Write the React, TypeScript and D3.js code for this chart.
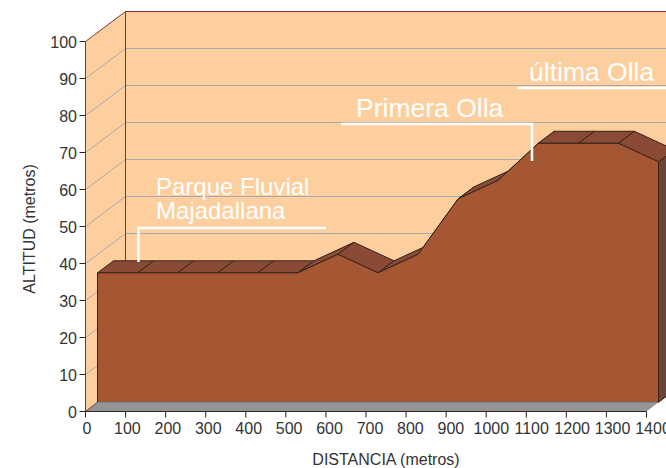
import React from "react";
import * as d3 from "d3";

const distances = [0, 100, 200, 300, 400, 500, 600, 700, 800, 900, 1000, 1100, 1200, 1300, 1400];
const altitudes = [35, 35, 35, 35, 35, 35, 40, 35, 40, 55, 60, 70, 70, 70, 65];
const yTicks = [0, 10, 20, 30, 40, 50, 60, 70, 80, 90, 100];
const annotations = [
  { lines: ["Parque Fluvial", "Majadallana"], x: 156, y: 194.5, size: 24, path: [[138.5, 262], [138.5, 228], [326, 228]] },
  { lines: ["Primera Olla"], x: 356, y: 116.5, size: 26.5, path: [[341, 124], [532, 124], [532, 161]] },
  { lines: ["última Olla"], x: 529, y: 81, size: 26.5, path: [[517, 88], [667, 88]] },
];

const W = 666, H = 468;
const FONT = '"Liberation Sans", Arial, sans-serif';
const WALL = "#fdcf9e", AREA = "#a55632", TOP = "#8b4a35", SIDE = "#6f4237";
const FLOOR = "#939598", GRID = "#a9a9a9", FRAME = "#8b2f32", EDGE = "#33231c", TEXT = "#333333";

const x = d3.scaleLinear().domain([0, 1400]).range([85.5, 646.5]);
const y = d3.scaleLinear().domain([0, 100]).range([411.5, 41.5]);
const labelX = d3.scaleLinear().domain([0, 1400]).range([87, 653]);
const wall = { dx: 40, dy: -30 };
const front = { dx: 12, dy: -9.2 };
const back = { dx: 28, dy: -21.2 };

const pts = (p: number[][]) => p.map((q) => q.join(",")).join(" ");
const line = d3.line();

export default function App() {
  const fx = (d: number) => x(d) + front.dx;
  const fy = (v: number) => y(v) + front.dy;
  const bx = (d: number) => x(d) + back.dx;
  const by = (v: number) => y(v) + back.dy;
  const last = distances.length - 1;
  const frontPath = d3
    .area<number>()
    .x((_, i) => fx(distances[i]))
    .y0(fy(0))
    .y1((v) => fy(v))(altitudes);

  return (
    <svg width={W} height={H} viewBox={`0 0 ${W} ${H}`} style={{ position: "absolute", left: 0, top: 0, display: "block" }}>
      <rect width={W} height={H} fill="#fff" />
      {/* walls */}
      <polygon points={pts([[x(0), y(0)], [x(0) + wall.dx, y(0) + wall.dy], [x(0) + wall.dx, y(100) + wall.dy], [x(0), y(100)]])} fill={WALL} />
      <polygon points={pts([[x(0) + wall.dx, y(0) + wall.dy], [x(1400) + wall.dx, y(0) + wall.dy], [x(1400) + wall.dx, y(100) + wall.dy], [x(0) + wall.dx, y(100) + wall.dy]])} fill={WALL} />
      {yTicks.slice(1, -1).map((t) => (
        <polyline key={t} fill="none" stroke={GRID} strokeWidth={1} points={pts([[x(0), y(t)], [x(0) + wall.dx, y(t) + wall.dy], [x(1400) + wall.dx, y(t) + wall.dy]])} />
      ))}
      <polyline fill="none" stroke={FRAME} strokeWidth={1} points={pts([[x(0), y(0)], [x(0), y(100)], [x(0) + wall.dx, y(100) + wall.dy], [x(1400) + wall.dx, y(100) + wall.dy]])} />
      <line x1={x(0) + wall.dx} x2={x(0) + wall.dx} y1={y(0) + wall.dy} y2={y(100) + wall.dy} stroke={FRAME} strokeWidth={1} />
      {/* floor */}
      <polygon points={pts([[x(0), y(0)], [x(1400), y(0)], [fx(1400), fy(0)], [fx(0), fy(0)]])} fill={FLOOR} />
      <line x1={x(0)} y1={y(0)} x2={fx(0)} y2={fy(0)} stroke={FRAME} strokeWidth={1} />
      {/* right side and top facets */}
      <polygon points={pts([[fx(1400), fy(0)], [bx(1400), by(0)], [bx(1400), by(altitudes[last])], [fx(1400), fy(altitudes[last])]])} fill={SIDE} stroke={EDGE} strokeWidth={1} />
      {altitudes.slice(0, -1).map((v, i) => (
        <polygon
          key={i}
          points={pts([[fx(distances[i]), fy(v)], [bx(distances[i]), by(v)], [bx(distances[i + 1]), by(altitudes[i + 1])], [fx(distances[i + 1]), fy(altitudes[i + 1])]])}
          fill={TOP}
          stroke={EDGE}
          strokeWidth={1}
        />
      ))}
      {/* front face */}
      <path d={frontPath ?? ""} fill={AREA} stroke={EDGE} strokeWidth={1} strokeLinejoin="round" />
      <line x1={fx(0)} x2={fx(1400)} y1={fy(0)} y2={fy(0)} stroke={FLOOR} strokeWidth={1} />
      {/* axes */}
      <line x1={x(0)} x2={x(1400)} y1={y(0)} y2={y(0)} stroke={EDGE} strokeWidth={1} />
      {yTicks.map((t) => (
        <g key={t}>
          <line x1={x(0) - 6} x2={x(0)} y1={y(t)} y2={y(t)} stroke={EDGE} strokeWidth={1} />
          <text x={x(0) - 8.5} y={y(t) + 6} textAnchor="end" fontFamily={FONT} fontSize={16} fill={TEXT}>{t}</text>
        </g>
      ))}
      {distances.map((d) => (
        <g key={d}>
          <line x1={x(d)} x2={x(d)} y1={y(0)} y2={y(0) + 6} stroke={EDGE} strokeWidth={1} />
          <text x={labelX(d)} y={433.5} textAnchor="middle" fontFamily={FONT} fontSize={16} fill={TEXT}>{d}</text>
        </g>
      ))}
      <text x={386} y={464.5} textAnchor="middle" fontFamily={FONT} fontSize={16} fill={TEXT}>DISTANCIA (metros)</text>
      <text transform="translate(35,229) rotate(-90)" textAnchor="middle" fontFamily={FONT} fontSize={16} fill={TEXT}>ALTITUD (metros)</text>
      {/* annotations */}
      {annotations.map((a) => (
        <g key={a.lines[0]}>
          <path d={line(a.path as [number, number][]) ?? ""} fill="none" stroke="#fff" strokeWidth={2.5} />
          {a.lines.map((t, i) => (
            <text key={t} x={a.x} y={a.y + i * 24} fontFamily={FONT} fontSize={a.size} fill="#fff">{t}</text>
          ))}
        </g>
      ))}
    </svg>
  );
}
